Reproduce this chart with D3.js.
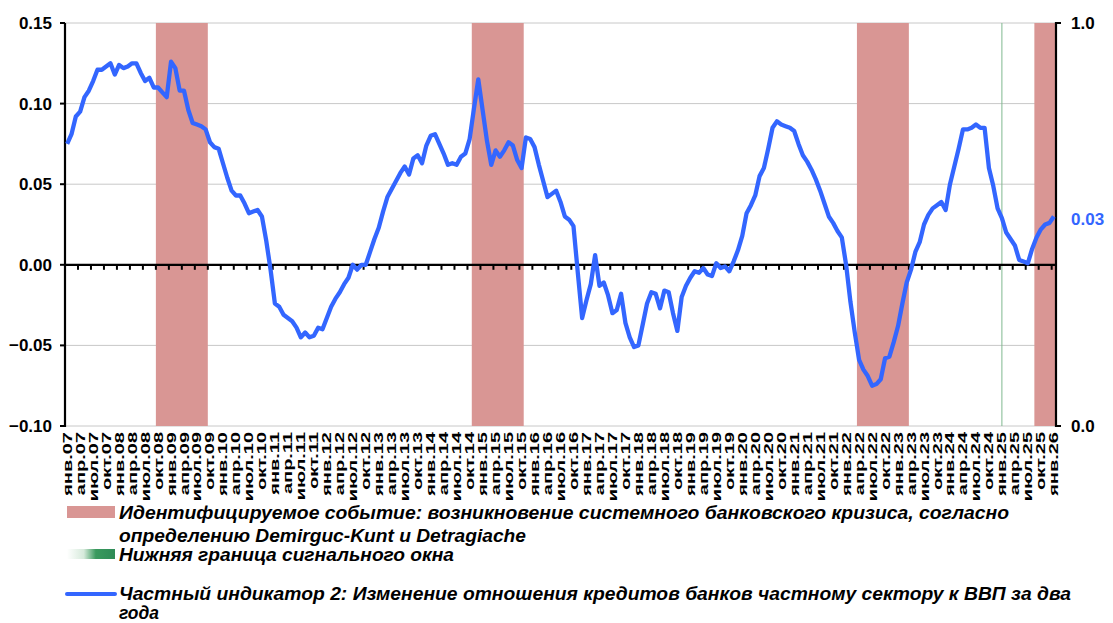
<!DOCTYPE html>
<html lang="ru">
<head>
<meta charset="utf-8">
<title>Частный индикатор 2</title>
<script src="https://d3js.org/d3.v7.min.js"></script>
<style>
  body { margin: 0; background: #fff; }
  svg { font-family: "Liberation Sans", Arial, sans-serif; }
</style>
</head>
<body>
<script>
// month names used for the category labels
var monthNames = ["янв.", "фев.", "мар.", "апр.", "май.", "июн.", "июл.", "авг.", "сен.", "окт.", "ноя.", "дек."];
var firstYear = 2007, lastYear = 2026, lastMonth = 1;

// indicator: change of bank credit to private sector / GDP over two years (monthly, Jan 2007 - Jan 2026)
var indicator = [
  0.075, 0.081, 0.092, 0.095, 0.104, 0.108, 0.114, 0.121, 0.121, 0.123, 0.125, 0.118,   // 2007
  0.124, 0.122, 0.123, 0.125, 0.125, 0.119, 0.114, 0.116, 0.110, 0.110, 0.107, 0.104,   // 2008
  0.126, 0.122, 0.108, 0.108, 0.096, 0.088, 0.087, 0.086, 0.084, 0.076, 0.073, 0.072,   // 2009
  0.063, 0.054, 0.046, 0.043, 0.043, 0.038, 0.032, 0.033, 0.034, 0.030, 0.015, -0.003,  // 2010
  -0.024, -0.026, -0.031, -0.033, -0.035, -0.039, -0.045, -0.042, -0.045, -0.044, -0.039, -0.040, // 2011
  -0.033, -0.026, -0.021, -0.017, -0.012, -0.008, 0.000, -0.003, 0.000, 0.000, 0.008, 0.016,      // 2012
  0.023, 0.033, 0.042, 0.047, 0.052, 0.057, 0.061, 0.056, 0.066, 0.068, 0.063, 0.074,   // 2013
  0.080, 0.081, 0.075, 0.069, 0.062, 0.063, 0.062, 0.067, 0.069, 0.078, 0.097, 0.115,   // 2014
  0.096, 0.077, 0.062, 0.071, 0.067, 0.071, 0.076, 0.074, 0.065, 0.060, 0.079, 0.078,   // 2015
  0.073, 0.062, 0.052, 0.042, 0.044, 0.046, 0.039, 0.030, 0.028, 0.024, -0.005, -0.033, // 2016
  -0.022, -0.012, 0.006, -0.013, -0.011, -0.019, -0.030, -0.028, -0.018, -0.036, -0.045, -0.051, // 2017
  -0.050, -0.037, -0.024, -0.017, -0.018, -0.027, -0.016, -0.017, -0.030, -0.041, -0.020, -0.013, // 2018
  -0.008, -0.004, -0.005, -0.002, -0.006, -0.007, 0.001, -0.002, -0.001, -0.004, 0.002, 0.009,    // 2019
  0.018, 0.032, 0.037, 0.043, 0.055, 0.060, 0.072, 0.085, 0.089, 0.087, 0.086, 0.085,   // 2020
  0.083, 0.075, 0.068, 0.064, 0.059, 0.053, 0.046, 0.038, 0.030, 0.026, 0.021, 0.017,   // 2021
  0.000, -0.023, -0.042, -0.059, -0.065, -0.069, -0.075, -0.074, -0.071, -0.058, -0.057, -0.048, // 2022
  -0.038, -0.024, -0.011, -0.003, 0.008, 0.014, 0.025, 0.031, 0.035, 0.037, 0.039, 0.034,        // 2023
  0.050, 0.061, 0.072, 0.084, 0.084, 0.085, 0.087, 0.085, 0.085, 0.060, 0.049, 0.035,   // 2024
  0.029, 0.020, 0.016, 0.012, 0.003, 0.002, 0.001, 0.010, 0.017, 0.022, 0.025, 0.026,   // 2025
  0.030                                                                                  // 2026
];

// systemic banking crisis periods (Demirguc-Kunt & Detragiache)
var crisisStarts = ["2008-10", "2014-11", "2022-04", "2025-09"];
var crisisEnds   = ["2009-09", "2015-10", "2023-03", "2026-01"];
// lower bound of the signal window
var signalStart = "2025-01";

var leftTicks = [-0.10, -0.05, 0.00, 0.05, 0.10, 0.15];
var rightTicks = [0.0, 1.0];

var legendLines = [
  "Идентифицируемое событие: возникновение системного банковского кризиса, согласно",
  "определению Demirguc-Kunt и Detragiache",
  "Нижняя граница сигнального окна",
  "Частный индикатор 2: Изменение отношения кредитов банков частному сектору к ВВП за два",
  "года"
];

// build month keys
var months = [];
for (var yr = firstYear; yr <= lastYear; yr++) {
  for (var mo = 1; mo <= 12; mo++) {
    if (yr === lastYear && mo > lastMonth) break;
    months.push(yr + "-" + (mo < 10 ? "0" + mo : mo));
  }
}
var data = months.map(function(k, i) { return { key: k, value: indicator[i] }; });

function monthLabel(k) {
  var p = k.split("-");
  return monthNames[+p[1] - 1] + p[0].slice(2);
}

var W = 1113, H = 623;
var plotLeft = 65, plotRight = 1056, plotTop = 23, plotBottom = 426;
var blue = "#3366ff";

var svg = d3.select("body").append("svg")
  .attr("width", W).attr("height", H);

svg.append("rect").attr("width", W).attr("height", H).attr("fill", "#fff");

var x = d3.scaleBand().domain(months).range([plotLeft, plotRight]).padding(0);
var bw = x.bandwidth();
function xc(k) { return x(k) + bw / 2; }

var y = d3.scaleLinear().domain([-0.10, 0.15]).range([plotBottom, plotTop]);
var y2 = d3.scaleLinear().domain([0, 1]).range([plotBottom, plotTop]);

// gridlines
svg.append("g").selectAll("line")
  .data(leftTicks.filter(function(d) { return d !== 0; }))
  .enter().append("line")
  .attr("x1", plotLeft).attr("x2", plotRight)
  .attr("y1", function(d) { return y(d); })
  .attr("y2", function(d) { return y(d); })
  .attr("stroke", "#c8c8c8").attr("stroke-width", 1);

// crisis bars
svg.append("g").selectAll("rect")
  .data(crisisStarts.map(function(s, i) { return [s, crisisEnds[i]]; }))
  .enter().append("rect")
  .attr("x", function(d) { return x(d[0]); })
  .attr("width", function(d) { return Math.min(x(d[1]) + bw, plotRight) - x(d[0]); })
  .attr("y", y2(1))
  .attr("height", y2(0) - y2(1))
  .attr("fill", "#d99694");

// signal window line
svg.append("line")
  .attr("x1", xc(signalStart)).attr("x2", xc(signalStart))
  .attr("y1", y2(1)).attr("y2", y2(0))
  .attr("stroke", "#7fb88f").attr("stroke-width", 1);

// zero line with quarter ticks
svg.append("line")
  .attr("x1", plotLeft).attr("x2", plotRight)
  .attr("y1", y(0)).attr("y2", y(0))
  .attr("stroke", "#000").attr("stroke-width", 2.2);

var quarterKeys = months.filter(function(k, i) { return i % 3 === 0; });
svg.append("g").selectAll("line")
  .data(quarterKeys.slice(1))
  .enter().append("line")
  .attr("x1", function(d) { return x(d); })
  .attr("x2", function(d) { return x(d); })
  .attr("y1", y(0)).attr("y2", y(0) + 5)
  .attr("stroke", "#000").attr("stroke-width", 2);

// left axis
var gl = svg.append("g");
gl.append("line").attr("x1", plotLeft).attr("x2", plotLeft)
  .attr("y1", plotTop).attr("y2", plotBottom + 1)
  .attr("stroke", "#000").attr("stroke-width", 2.2);
gl.selectAll(".t").data(leftTicks).enter().append("line")
  .attr("x1", plotLeft - 5).attr("x2", plotLeft)
  .attr("y1", function(d) { return y(d); })
  .attr("y2", function(d) { return y(d); })
  .attr("stroke", "#000").attr("stroke-width", 2);
gl.selectAll("text").data(leftTicks).enter().append("text")
  .attr("x", plotLeft - 13)
  .attr("y", function(d) { return y(d); })
  .attr("dy", "0.35em")
  .attr("text-anchor", "end")
  .attr("font-size", 17).attr("font-weight", "bold")
  .text(function(d) { return d3.format(".2f")(d); });

// right axis
var gr = svg.append("g");
gr.append("line").attr("x1", plotRight).attr("x2", plotRight)
  .attr("y1", plotTop - 1).attr("y2", plotBottom + 1)
  .attr("stroke", "#000").attr("stroke-width", 2.2);
gr.selectAll(".t").data(rightTicks).enter().append("line")
  .attr("x1", plotRight).attr("x2", plotRight + 5)
  .attr("y1", function(d) { return y2(d); })
  .attr("y2", function(d) { return y2(d); })
  .attr("stroke", "#000").attr("stroke-width", 2);
gr.selectAll("text").data(rightTicks).enter().append("text")
  .attr("x", plotRight + 15)
  .attr("y", function(d) { return y2(d); })
  .attr("dy", "0.35em")
  .attr("font-size", 17).attr("font-weight", "bold")
  .text(function(d) { return d3.format(".1f")(d); });

// category labels (rotated, stretched along the text like the original)
svg.append("g").selectAll("text")
  .data(quarterKeys)
  .enter().append("text")
  .attr("transform", function(d) {
    return "translate(" + xc(d) + "," + (plotBottom + 6) + ") rotate(-90) scale(1.6,1)";
  })
  .attr("dy", "0.36em")
  .attr("text-anchor", "end")
  .attr("font-size", 12.5).attr("font-weight", "bold")
  .text(monthLabel);

// indicator line
var line = d3.line()
  .x(function(d) { return xc(d.key); })
  .y(function(d) { return y(d.value); });

svg.append("path")
  .datum(data)
  .attr("d", line)
  .attr("fill", "none")
  .attr("stroke", blue)
  .attr("stroke-width", 4.3)
  .attr("stroke-linejoin", "round");

// last value label
var last = data[data.length - 1];
svg.append("text")
  .attr("x", plotRight + 15)
  .attr("y", y(last.value) + 3)
  .attr("dy", "0.35em")
  .attr("font-size", 17).attr("font-weight", "bold")
  .attr("fill", blue)
  .text(d3.format(".2f")(last.value));

// legend
var defs = svg.append("defs");
var grad = defs.append("linearGradient").attr("id", "greenGrad");
grad.append("stop").attr("offset", "0%").attr("stop-color", "#ffffff");
grad.append("stop").attr("offset", "35%").attr("stop-color", "#d6eadb");
grad.append("stop").attr("offset", "60%").attr("stop-color", "#3a9a5e");
grad.append("stop").attr("offset", "100%").attr("stop-color", "#2e8b57");

var lg = svg.append("g");
lg.append("rect").attr("x", 67).attr("y", 506).attr("width", 48).attr("height", 12).attr("fill", "#d99694");
lg.append("rect").attr("x", 67).attr("y", 549).attr("width", 48).attr("height", 10).attr("fill", "url(#greenGrad)");
lg.append("line").attr("x1", 67).attr("x2", 115).attr("y1", 594).attr("y2", 594)
  .attr("stroke", blue).attr("stroke-width", 4).attr("stroke-linecap", "round");

var legendY = [519, 542, 561, 600, 619];
var legendW = [890, 407, 335, 952, 40];
lg.selectAll("text").data(legendLines).enter().append("text")
  .attr("x", 119)
  .attr("y", function(d, i) { return legendY[i]; })
  .attr("font-size", 18).attr("font-weight", "bold").attr("font-style", "italic")
  .attr("textLength", function(d, i) { return legendW[i]; })
  .attr("lengthAdjust", "spacingAndGlyphs")
  .text(function(d) { return d; });
</script>
</body>
</html>
